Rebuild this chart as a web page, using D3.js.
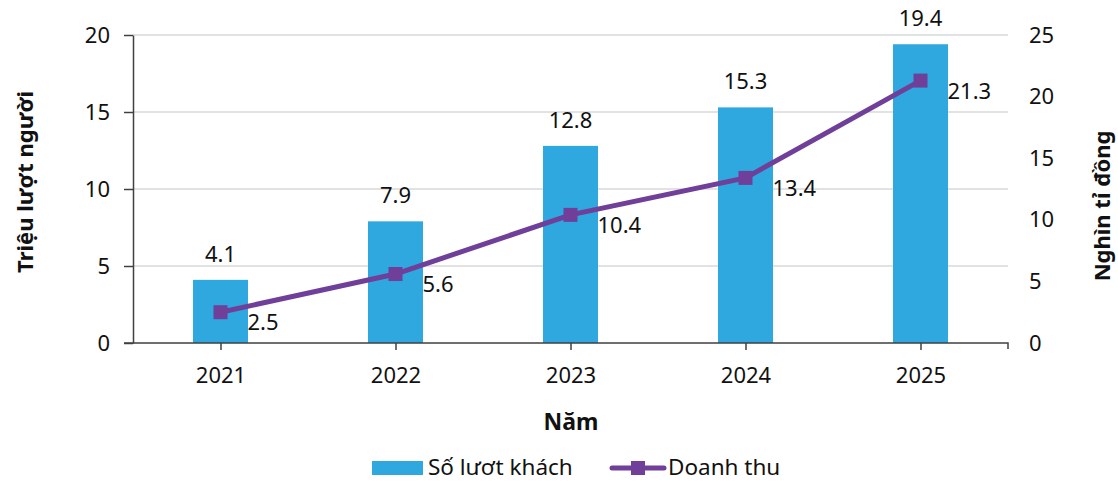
<!DOCTYPE html>
<html>
<head>
<meta charset="utf-8">
<script src="https://cdn.jsdelivr.net/npm/d3@7"></script>
<style>
  body { margin: 0; background: #fff; }
  text { font-family: "Noto Sans", "Open Sans", sans-serif; fill: #111; }
  .grid line { stroke: #d9d9d9; stroke-width: 1.5; }
  .axis path, .axis line { stroke: #404040; stroke-width: 1.5; }
</style>
</head>
<body>
<div id="chart"></div>
<script>
// Data
var years = ["2021", "2022", "2023", "2024", "2025"];
var visitors = [4.1, 7.9, 12.8, 15.3, 19.4];   // Triệu lượt người
var revenue = [2.5, 5.6, 10.4, 13.4, 21.3];    // Nghìn tỉ đồng
var leftTicks = [0, 5, 10, 15, 20];
var rightTicks = [0, 5, 10, 15, 20, 25];

var W = 1118, H = 482;
var margin = {top: 35, right: 110, bottom: 139, left: 133};
var width = W - margin.left - margin.right;   // 875
var height = H - margin.top - margin.bottom;  // 308

var barColor = "#2ea8de", lineColor = "#6f3f9a";
var fs = "22px";

var svg = d3.select("#chart").append("svg")
    .attr("width", W)
    .attr("height", H);

var g = svg.append("g")
    .attr("transform", "translate(" + margin.left + "," + margin.top + ")");

// Scales
var xc = d3.scalePoint().domain(years).range([width / 10, width * 9 / 10]);
var yL = d3.scaleLinear().domain([0, 20]).range([height, 0]);
var yR = d3.scaleLinear().domain([0, 25]).range([height, 0]);

// Gridlines
g.append("g").attr("class", "grid")
  .selectAll("line").data(leftTicks.slice(1)).enter().append("line")
    .attr("x1", 0).attr("x2", width)
    .attr("y1", function(d) { return yL(d); })
    .attr("y2", function(d) { return yL(d); });

// Bars
g.selectAll("rect.bar").data(visitors).enter().append("rect")
    .attr("class", "bar")
    .attr("x", function(d, i) { return xc(years[i]) - 27.5; })
    .attr("width", 55)
    .attr("y", function(d) { return yL(d); })
    .attr("height", function(d) { return height - yL(d); })
    .style("fill", barColor);

// Left axis
var leftAxis = g.append("g").attr("class", "axis")
    .call(d3.axisLeft(yL).tickValues(leftTicks).tickSize(9).tickPadding(14).tickSizeOuter(0));
leftAxis.selectAll("text").style("font-size", fs);

// Bottom axis
var bottomAxis = g.append("g").attr("class", "axis")
    .attr("transform", "translate(0," + height + ")")
    .call(d3.axisBottom(xc).tickSize(7).tickPadding(17));
bottomAxis.select(".domain").attr("d", "M-9,0H" + width + "V6");
bottomAxis.selectAll("text").style("font-size", fs);

// Right axis (labels only)
var rightAxis = g.append("g").attr("class", "axis")
    .attr("transform", "translate(" + width + ",0)")
    .call(d3.axisRight(yR).tickValues(rightTicks).tickSize(0).tickPadding(21));
rightAxis.select(".domain").remove();
rightAxis.selectAll("text").style("font-size", fs);

// Line
var line = d3.line()
    .x(function(d, i) { return xc(years[i]); })
    .y(function(d) { return yR(d); });

g.append("path")
    .datum(revenue)
    .attr("d", line)
    .style("fill", "none")
    .style("stroke", lineColor)
    .style("stroke-width", 5);

g.selectAll("rect.marker").data(revenue).enter().append("rect")
    .attr("class", "marker")
    .attr("x", function(d, i) { return xc(years[i]) - 7; })
    .attr("y", function(d) { return yR(d) - 7; })
    .attr("width", 14).attr("height", 14)
    .style("fill", lineColor);

// Data labels
g.selectAll("text.barlabel").data(visitors).enter().append("text")
    .attr("class", "barlabel")
    .attr("x", function(d, i) { return xc(years[i]); })
    .attr("y", function(d) { return yL(d) - 18; })
    .attr("text-anchor", "middle")
    .style("font-size", fs)
    .text(function(d) { return d.toFixed(1); });

g.selectAll("text.linelabel").data(revenue).enter().append("text")
    .attr("class", "linelabel")
    .attr("x", function(d, i) { return xc(years[i]) + 27; })
    .attr("y", function(d) { return yR(d) + 18; })
    .style("font-size", fs)
    .text(function(d) { return d.toFixed(1); });

// Axis titles
svg.append("text")
    .attr("transform", "translate(33,182) rotate(-90)")
    .attr("text-anchor", "middle")
    .style("font-size", "22px").style("font-weight", "bold")
    .text("Triệu lượt người");

svg.append("text")
    .attr("transform", "translate(1110,206) rotate(-90)")
    .attr("text-anchor", "middle")
    .style("font-size", "22px").style("font-weight", "bold")
    .text("Nghìn tỉ đồng");

svg.append("text")
    .attr("x", 571).attr("y", 430)
    .attr("text-anchor", "middle")
    .style("font-size", "23px").style("font-weight", "bold")
    .text("Năm");

// Legend
var legend = svg.append("g").attr("transform", "translate(0,468)");
legend.append("rect")
    .attr("x", 372).attr("y", -7).attr("width", 51).attr("height", 14)
    .style("fill", barColor);
legend.append("text")
    .attr("x", 428).attr("y", 7)
    .style("font-size", "22.5px")
    .text("Số lươt khách");
legend.append("line")
    .attr("x1", 612).attr("x2", 664).attr("y1", 0).attr("y2", 0)
    .style("stroke", lineColor).style("stroke-width", 5).style("stroke-linecap", "round");
legend.append("rect")
    .attr("x", 631).attr("y", -7).attr("width", 14).attr("height", 14)
    .style("fill", lineColor);
legend.append("text")
    .attr("x", 668).attr("y", 7)
    .style("font-size", "22.5px")
    .text("Doanh thu");
</script>
</body>
</html>
